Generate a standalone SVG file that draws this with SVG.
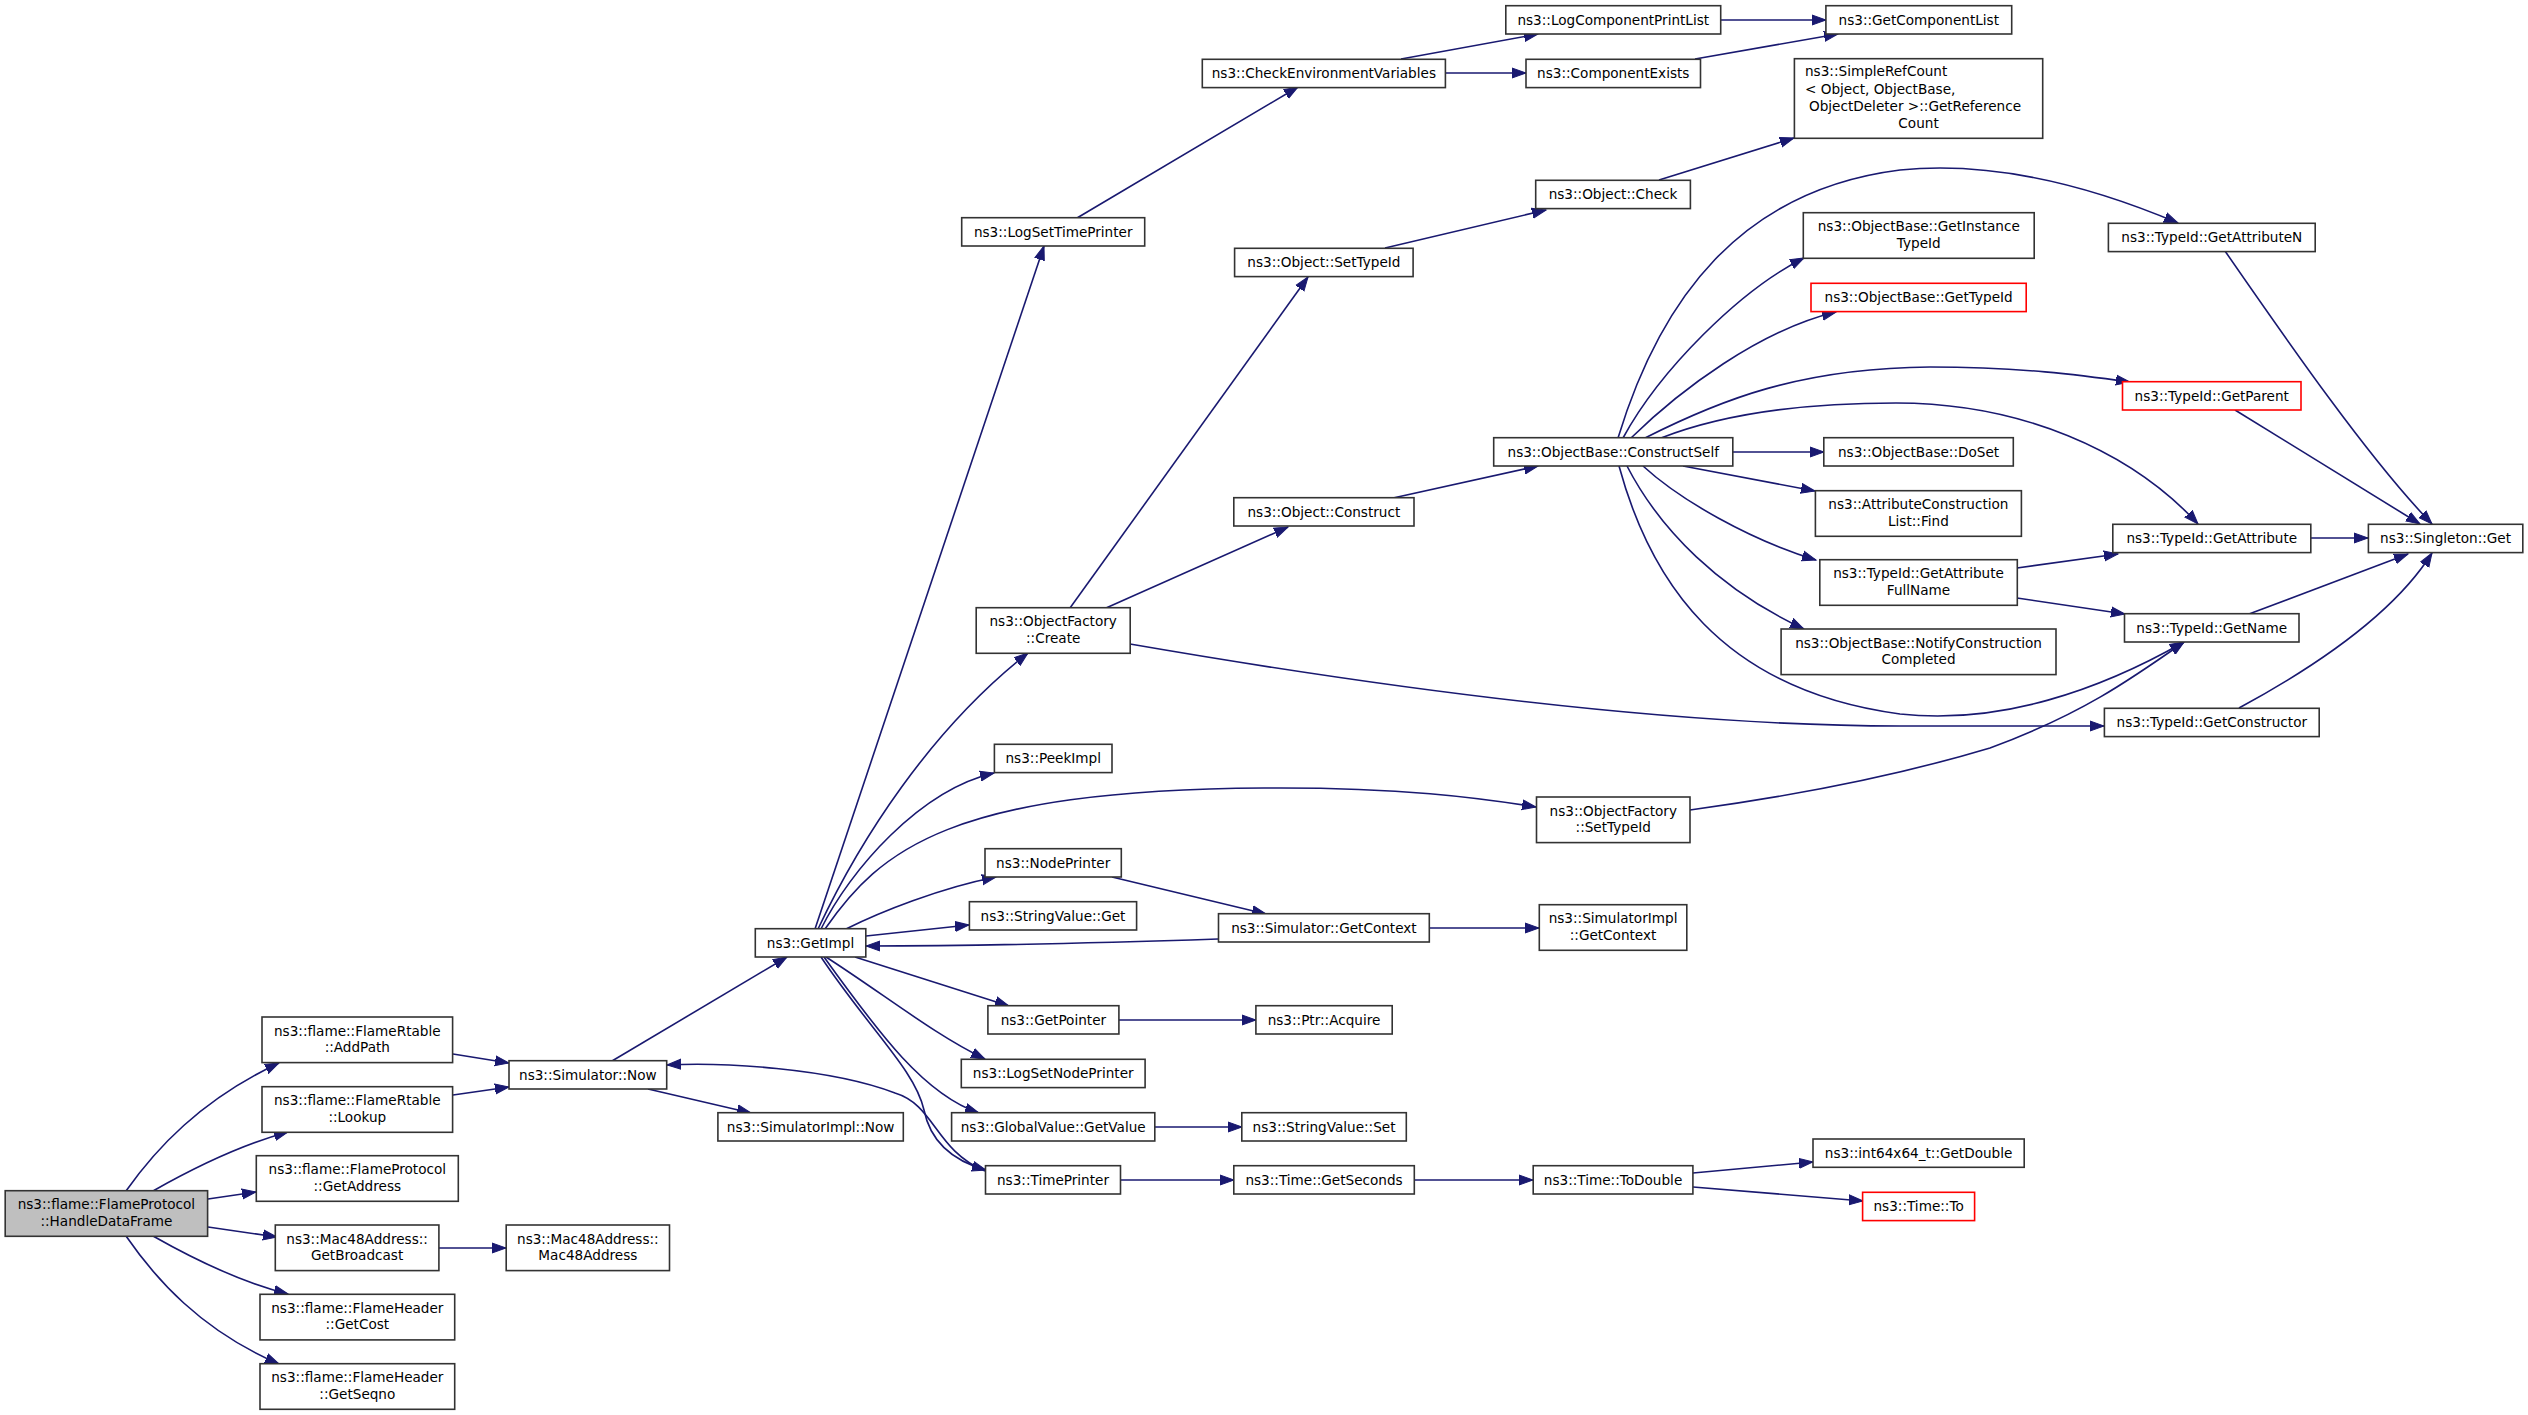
<svg xmlns="http://www.w3.org/2000/svg" width="2528" height="1415" viewBox="0 0 2528 1415">
<defs>
<style>
.n rect{fill:#fff;stroke:#333;stroke-width:1.6}
.n.red rect{stroke:#f00}
.n.root rect{fill:#bfbfbf}
.n text{font-family:"DejaVu Sans","Liberation Sans",sans-serif;font-size:13.6px;fill:#000;text-anchor:middle}
.n text.l{text-anchor:start}
#edges path{fill:none;stroke:#191970;stroke-width:1.6;marker-end:url(#a)}
</style>
<marker id="a" markerUnits="userSpaceOnUse" markerWidth="16" markerHeight="12" refX="14" refY="6" orient="auto" viewBox="0 0 16 12">
<path d="M0,1 L14,6 L0,11 z" fill="#191970" stroke="#191970" stroke-width="1"/>
</marker>
</defs>
<rect width="2528" height="1415" fill="#fff"/>
<g id="edges">
<path d="M126,1191 C155,1150 200,1100 279,1063"/>
<path d="M153,1191 C190,1170 240,1145 288,1132"/>
<path d="M208,1199 L256,1192"/>
<path d="M208,1227 L277,1237"/>
<path d="M153,1236 C190,1257 240,1282 288,1294"/>
<path d="M126,1236 C155,1278 200,1330 279,1364"/>
<path d="M453,1054 L509,1063"/>
<path d="M453,1095 L509,1087"/>
<path d="M439,1248 L506,1248"/>
<path d="M612,1061 L787,957"/>
<path d="M648,1089 L751,1113"/>
<path d="M985,1171 C935,1150 935,1105 895,1093 C830,1068 720,1062 667,1065"/>
<path d="M815,929 L1044,246"/>
<path d="M818,929 C860,840 930,730 1028,653"/>
<path d="M821,929 C850,870 920,790 994,773"/>
<path d="M825,929 C880,850 950,790 1264,788 C1400,787 1480,798 1536,807"/>
<path d="M846,929 C880,912 940,888 996,877"/>
<path d="M866,936 L969,925"/>
<path d="M1218,939 C1100,943 950,946 866,946"/>
<path d="M1112,877 L1266,914"/>
<path d="M855,957 L1009,1006"/>
<path d="M826,957 C885,995 935,1035 985,1059"/>
<path d="M824,957 C880,1035 925,1095 979,1113"/>
<path d="M821,957 C870,1030 915,1070 924,1110 C930,1140 950,1160 986,1170"/>
<path d="M1119,1020 L1256,1020"/>
<path d="M1155,1127 L1242,1127"/>
<path d="M1121,1180 L1234,1180"/>
<path d="M1414,1180 L1533,1180"/>
<path d="M1693,1173 L1813,1162"/>
<path d="M1693,1187 L1863,1201"/>
<path d="M1429,928 L1539,928"/>
<path d="M1070,608 L1308,277"/>
<path d="M1106,608 L1288,527"/>
<path d="M1130,644 C1350,682 1650,726 1900,726 L2104,726"/>
<path d="M1385,248 L1546,210"/>
<path d="M1659,180 L1794,138"/>
<path d="M1393,498 L1538,466"/>
<path d="M1077,218 L1298,87"/>
<path d="M1401,59 L1538,34"/>
<path d="M1445,73 L1526,73"/>
<path d="M1721,20 L1826,20"/>
<path d="M1695,59 L1838,34"/>
<path d="M1618,438 C1660,300 1740,190 1900,170 C2000,160 2100,190 2178,223"/>
<path d="M1623,438 C1660,370 1740,290 1804,258"/>
<path d="M1631,438 C1680,390 1760,330 1836,312"/>
<path d="M1645,438 C1720,400 1800,368 1930,367 C2020,367 2080,375 2130,382"/>
<path d="M1733,452 L1824,452"/>
<path d="M1661,438 C1720,415 1800,403 1896,403 C2020,403 2130,450 2198,524"/>
<path d="M1683,466 L1815,491"/>
<path d="M1643,466 C1680,500 1750,540 1816,560"/>
<path d="M1627,466 C1660,530 1720,590 1804,629"/>
<path d="M1619,466 C1650,580 1720,690 1900,714 C2000,725 2100,690 2184,642"/>
<path d="M2017,568 L2118,554"/>
<path d="M2017,598 L2125,614"/>
<path d="M2311,538 L2368,538"/>
<path d="M2249,614 L2408,554"/>
<path d="M2239,708 C2300,675 2390,620 2432,553"/>
<path d="M2225,251 C2290,345 2370,460 2432,524"/>
<path d="M2235,410 L2420,524"/>
<path d="M1690,810 C1800,795 1900,775 1990,748 C2080,715 2130,680 2184,642"/>
</g>
<g id="n1" class="n root"><rect x="5.2" y="1190.7" width="202.4" height="45.6"/><text x="106.4" y="1209.2">ns3::flame::FlameProtocol</text><text x="106.4" y="1225.7">::HandleDataFrame</text></g>
<g id="n2" class="n"><rect x="262" y="1017" width="190.6" height="45.6"/><text x="357.3" y="1035.5">ns3::flame::FlameRtable</text><text x="357.3" y="1052">::AddPath</text></g>
<g id="n3" class="n"><rect x="262" y="1086.7" width="190.6" height="45.6"/><text x="357.3" y="1105.2">ns3::flame::FlameRtable</text><text x="357.3" y="1121.7">::Lookup</text></g>
<g id="n4" class="n"><rect x="256.3" y="1155.7" width="202" height="45.6"/><text x="357.3" y="1174.2">ns3::flame::FlameProtocol</text><text x="357.3" y="1190.7">::GetAddress</text></g>
<g id="n5" class="n"><rect x="275.3" y="1225" width="163.6" height="45.6"/><text x="357.1" y="1243.5">ns3::Mac48Address::</text><text x="357.1" y="1260">GetBroadcast</text></g>
<g id="n6" class="n"><rect x="260" y="1294.3" width="194.7" height="45.6"/><text x="357.35" y="1312.8">ns3::flame::FlameHeader</text><text x="357.35" y="1329.3">::GetCost</text></g>
<g id="n7" class="n"><rect x="260" y="1363.7" width="194.7" height="45.6"/><text x="357.35" y="1382.2">ns3::flame::FlameHeader</text><text x="357.35" y="1398.7">::GetSeqno</text></g>
<g id="n8" class="n"><rect x="509" y="1060.7" width="157.7" height="28.3"/><text x="587.85" y="1079.7">ns3::Simulator::Now</text></g>
<g id="n9" class="n"><rect x="506.2" y="1225" width="163.3" height="45.6"/><text x="587.85" y="1243.5">ns3::Mac48Address::</text><text x="587.85" y="1260">Mac48Address</text></g>
<g id="n10" class="n"><rect x="717.9" y="1112.7" width="185.4" height="28.3"/><text x="810.6" y="1131.7">ns3::SimulatorImpl::Now</text></g>
<g id="n11" class="n"><rect x="755.3" y="928.7" width="110.5" height="28.3"/><text x="810.55" y="947.7">ns3::GetImpl</text></g>
<g id="n12" class="n"><rect x="961.7" y="217.7" width="183" height="28.3"/><text x="1053.2" y="236.7">ns3::LogSetTimePrinter</text></g>
<g id="n13" class="n"><rect x="976.2" y="607.7" width="154" height="45.6"/><text x="1053.2" y="626.2">ns3::ObjectFactory</text><text x="1053.2" y="642.7">::Create</text></g>
<g id="n14" class="n"><rect x="994.4" y="744.3" width="117.6" height="28.3"/><text x="1053.2" y="763.3">ns3::PeekImpl</text></g>
<g id="n15" class="n"><rect x="985" y="848.7" width="136.3" height="28.3"/><text x="1053.15" y="867.7">ns3::NodePrinter</text></g>
<g id="n16" class="n"><rect x="969.4" y="901.7" width="167.2" height="28.3"/><text x="1053" y="920.7">ns3::StringValue::Get</text></g>
<g id="n17" class="n"><rect x="987.9" y="1005.7" width="131" height="28.3"/><text x="1053.4" y="1024.7">ns3::GetPointer</text></g>
<g id="n18" class="n"><rect x="961.3" y="1059.3" width="183.8" height="28.3"/><text x="1053.2" y="1078.3">ns3::LogSetNodePrinter</text></g>
<g id="n19" class="n"><rect x="951.6" y="1112.7" width="203.2" height="28.3"/><text x="1053.2" y="1131.7">ns3::GlobalValue::GetValue</text></g>
<g id="n20" class="n"><rect x="985.5" y="1165.7" width="135" height="28.3"/><text x="1053" y="1184.7">ns3::TimePrinter</text></g>
<g id="n21" class="n"><rect x="1202.3" y="59.3" width="243.1" height="28.3"/><text x="1323.85" y="78.3">ns3::CheckEnvironmentVariables</text></g>
<g id="n22" class="n"><rect x="1234.6" y="248.3" width="178.5" height="28.3"/><text x="1323.85" y="267.3">ns3::Object::SetTypeId</text></g>
<g id="n23" class="n"><rect x="1233.8" y="497.7" width="180.2" height="28.3"/><text x="1323.9" y="516.7">ns3::Object::Construct</text></g>
<g id="n24" class="n"><rect x="1218.5" y="913.7" width="210.8" height="28.3"/><text x="1323.9" y="932.7">ns3::Simulator::GetContext</text></g>
<g id="n25" class="n"><rect x="1255.9" y="1005.7" width="136.3" height="28.3"/><text x="1324.05" y="1024.7">ns3::Ptr::Acquire</text></g>
<g id="n26" class="n"><rect x="1241.8" y="1112.7" width="164.5" height="28.3"/><text x="1324.05" y="1131.7">ns3::StringValue::Set</text></g>
<g id="n27" class="n"><rect x="1233.8" y="1165.7" width="180.5" height="28.3"/><text x="1324.05" y="1184.7">ns3::Time::GetSeconds</text></g>
<g id="n28" class="n"><rect x="1505.8" y="5.7" width="214.9" height="28.3"/><text x="1613.25" y="24.7">ns3::LogComponentPrintList</text></g>
<g id="n29" class="n"><rect x="1526" y="59.3" width="174.5" height="28.3"/><text x="1613.25" y="78.3">ns3::ComponentExists</text></g>
<g id="n30" class="n"><rect x="1535.7" y="180.3" width="154.7" height="28.3"/><text x="1613.05" y="199.3">ns3::Object::Check</text></g>
<g id="n31" class="n"><rect x="1493.7" y="437.7" width="239.1" height="28.3"/><text x="1613.25" y="456.7">ns3::ObjectBase::ConstructSelf</text></g>
<g id="n32" class="n"><rect x="1536.5" y="797" width="153.5" height="45.6"/><text x="1613.25" y="815.5">ns3::ObjectFactory</text><text x="1613.25" y="832">::SetTypeId</text></g>
<g id="n33" class="n"><rect x="1539.3" y="904.7" width="147.5" height="45.6"/><text x="1613.05" y="923.2">ns3::SimulatorImpl</text><text x="1613.05" y="939.7">::GetContext</text></g>
<g id="n34" class="n"><rect x="1533.2" y="1165.7" width="159.7" height="28.3"/><text x="1613.05" y="1184.7">ns3::Time::ToDouble</text></g>
<g id="n35" class="n"><rect x="1825.9" y="5.7" width="185.8" height="28.3"/><text x="1918.8" y="24.7">ns3::GetComponentList</text></g>
<g id="n36" class="n"><rect x="1794.4" y="58.7" width="248.3" height="79.6"/><text class="l" x="1805" y="76.2">ns3::SimpleRefCount</text><text class="l" x="1805" y="93.5">&lt; Object, ObjectBase,</text><text class="l" x="1809" y="110.8">ObjectDeleter &gt;::GetReference</text><text x="1918.55" y="128.1">Count</text></g>
<g id="n37" class="n"><rect x="1803.3" y="212.7" width="230.9" height="45.6"/><text x="1918.75" y="231.2">ns3::ObjectBase::GetInstance</text><text x="1918.75" y="247.7">TypeId</text></g>
<g id="n38" class="n red"><rect x="1811" y="283.3" width="215.2" height="28.3"/><text x="1918.6" y="302.3">ns3::ObjectBase::GetTypeId</text></g>
<g id="n39" class="n"><rect x="1823.8" y="437.7" width="189.5" height="28.3"/><text x="1918.55" y="456.7">ns3::ObjectBase::DoSet</text></g>
<g id="n40" class="n"><rect x="1815.4" y="490.7" width="206" height="45.6"/><text x="1918.4" y="509.2">ns3::AttributeConstruction</text><text x="1918.4" y="525.7">List::Find</text></g>
<g id="n41" class="n"><rect x="1819.8" y="559.7" width="197.5" height="45.6"/><text x="1918.55" y="578.2">ns3::TypeId::GetAttribute</text><text x="1918.55" y="594.7">FullName</text></g>
<g id="n42" class="n"><rect x="1781.1" y="629" width="274.9" height="45.6"/><text x="1918.55" y="647.5">ns3::ObjectBase::NotifyConstruction</text><text x="1918.55" y="664">Completed</text></g>
<g id="n43" class="n"><rect x="1813" y="1139" width="211.2" height="28.3"/><text x="1918.6" y="1158">ns3::int64x64_t::GetDouble</text></g>
<g id="n44" class="n red"><rect x="1862.6" y="1192.3" width="112" height="28.3"/><text x="1918.6" y="1211.3">ns3::Time::To</text></g>
<g id="n45" class="n"><rect x="2108.4" y="223.3" width="206.8" height="28.3"/><text x="2211.8" y="242.3">ns3::TypeId::GetAttributeN</text></g>
<g id="n46" class="n red"><rect x="2122.5" y="381.7" width="178.5" height="28.3"/><text x="2211.75" y="400.7">ns3::TypeId::GetParent</text></g>
<g id="n47" class="n"><rect x="2112.8" y="524.3" width="198" height="28.3"/><text x="2211.8" y="543.3">ns3::TypeId::GetAttribute</text></g>
<g id="n48" class="n"><rect x="2124.5" y="613.7" width="174.5" height="28.3"/><text x="2211.75" y="632.7">ns3::TypeId::GetName</text></g>
<g id="n49" class="n"><rect x="2104.4" y="708.3" width="214.8" height="28.3"/><text x="2211.8" y="727.3">ns3::TypeId::GetConstructor</text></g>
<g id="n50" class="n"><rect x="2368.4" y="524.3" width="154.4" height="28.3"/><text x="2445.6" y="543.3">ns3::Singleton::Get</text></g>
</svg>
